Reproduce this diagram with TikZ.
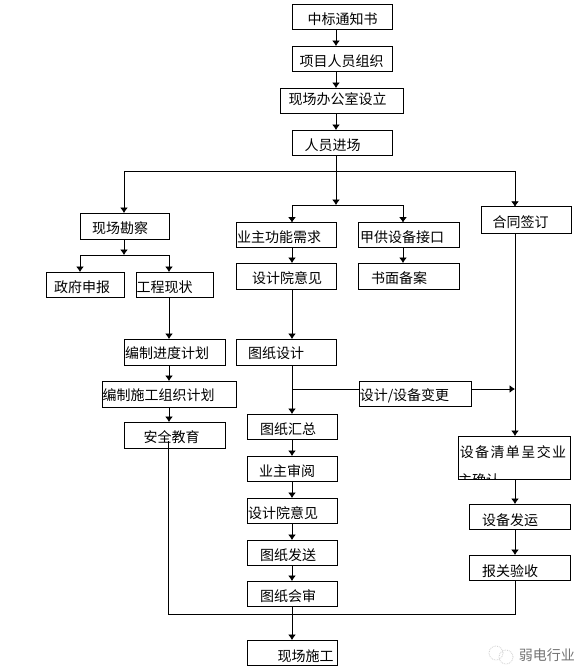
\documentclass[tikz,border=0pt]{standalone}
\usepackage{fontspec}
\setmainfont{Noto Sans CJK SC}
\usetikzlibrary{arrows.meta}
% text in a box: dx, dy from the box centre, baseline set so glyphs sit on the centre
\newcommand{\boxtext}[3]{\smash{\raisebox{\dimexpr -#2pt - 5.3pt\relax}{\makebox[0pt]{\hspace*{#1pt}\hspace*{#1pt}#3}}}}
\tikzset{
  flowbox/.style = {draw, line width = 0.9pt, inner sep = 0pt, outer sep = 0pt, font = \fontsize{14}{14}\selectfont},
  conn/.style = {line width = 0.9pt},
  arr/.style = {conn, -{Latex[length=5.5pt, width=8pt]}}
}
\begin{document}
\begin{tikzpicture}[x = 1pt, y = -1pt]
\useasboundingbox (0,0) rectangle (575,670);
\coordinate (trunk) at (336,171);
\coordinate (surveyline) at (124,171);
\coordinate (contractline) at (515,171);
\coordinate (fork) at (336,205);
\coordinate (forkleft) at (292,205);
\coordinate (forkright) at (403,205);
\coordinate (surveyfork) at (124,255);
\coordinate (govline) at (80,255);
\coordinate (statusline) at (169,255);
\coordinate (changeline) at (292,389);
\coordinate (changeend) at (515,389);
\coordinate (sitejoin) at (292,614);
\coordinate (safetyline) at (168,441);
\coordinate (customsline) at (515,614);
\coordinate (safetycorner) at (168,614);
% top column
\node[flowbox, minimum width = 100pt, minimum height = 25pt] (notice) at (342,16.5) {\boxtext{0.5}{2.5}{中标通知书}};
\node[flowbox, minimum width = 100pt, minimum height = 25pt] (team) at (342,58.5) {\boxtext{-0.5}{2.5}{项目人员组织}};
\node[flowbox, minimum width = 123.5pt, minimum height = 25pt] (office) at (342,100.5) {\boxtext{-4.5}{-1.8}{现场办公室设立}};
\node[flowbox, minimum width = 100pt, minimum height = 25pt] (staff) at (342,142.5) {\boxtext{-9.5}{2.2}{人员进场}};
% left column
\node[flowbox, minimum width = 89.5pt, minimum height = 26pt] (survey) at (124.7,226) {\boxtext{-4.7}{2}{现场勘察}};
\node[flowbox, minimum width = 78pt, minimum height = 25pt] (gov) at (85,284.5) {\boxtext{-3}{2.5}{政府申报}};
\node[flowbox, minimum width = 77pt, minimum height = 25pt] (status) at (174.5,284.5) {\boxtext{-10}{2.5}{工程现状}};
\node[flowbox, minimum width = 101pt, minimum height = 26pt] (schedule) at (174.5,352) {\boxtext{-7.5}{1}{编制进度计划}};
\node[flowbox, minimum width = 134pt, minimum height = 26pt] (plan) at (169,394) {\boxtext{-10.5}{1}{编制施工组织计划}};
\node[flowbox, minimum width = 101pt, minimum height = 26pt] (safety) at (174.5,435) {\boxtext{-3}{2}{安全教育}};
% middle column
\node[flowbox, minimum width = 100.5pt, minimum height = 25pt] (needs) at (286.5,235) {\boxtext{-7.5}{1.7}{业主功能需求}};
\node[flowbox, minimum width = 100.5pt, minimum height = 26pt] (opinion) at (286.5,276) {\boxtext{0.5}{2}{设计院意见}};
\node[flowbox, minimum width = 100.5pt, minimum height = 25pt] (interface) at (409,235) {\boxtext{-7}{1.7}{甲供设备接口}};
\node[flowbox, minimum width = 100.5pt, minimum height = 26pt] (filing) at (409,276) {\boxtext{-10}{2}{书面备案}};
\node[flowbox, minimum width = 100.5pt, minimum height = 26pt] (drawing) at (286.5,352) {\boxtext{-10.5}{1}{图纸设计}};
\node[flowbox, minimum width = 90pt, minimum height = 25pt] (collect) at (292,426.5) {\boxtext{-4}{2.5}{图纸汇总}};
\node[flowbox, minimum width = 90pt, minimum height = 25pt] (review) at (292,468.5) {\boxtext{-5}{2.5}{业主审阅}};
\node[flowbox, minimum width = 90pt, minimum height = 25pt] (opinionb) at (292,510.5) {\boxtext{-9}{2.5}{设计院意见}};
\node[flowbox, minimum width = 90pt, minimum height = 25pt] (send) at (292,552.5) {\boxtext{-4}{2.5}{图纸发送}};
\node[flowbox, minimum width = 90pt, minimum height = 25pt] (meeting) at (292,593.5) {\boxtext{-4}{2.5}{图纸会审}};
\node[flowbox, minimum width = 90pt, minimum height = 25pt] (site) at (292,652.5) {\boxtext{13.5}{3.5}{现场施工}};
% right column
\node[flowbox, minimum width = 112pt, minimum height = 25pt] (change) at (415,393.5) {\boxtext{-10.5}{1.5}{设计/设备变更}};
\node[flowbox, minimum width = 90pt, minimum height = 26.5pt] (contract) at (526,220) {\boxtext{-5.5}{2}{合同签订}};
\node[flowbox, minimum width = 112pt, minimum height = 43pt] (equiplist) at (514,457.5) {\boxtext{-1}{-5.5}{\addfontfeature{LetterSpace=10}设备清单呈交业}};
\begin{scope}
\clip (equiplist.north west) rectangle (equiplist.south east);
\node[flowbox, draw = none, anchor = west] (equiplistb) at (458,480) {主确认};
\end{scope}
\node[flowbox, minimum width = 101pt, minimum height = 25pt] (ship) at (519.5,516.5) {\boxtext{-9.5}{3.5}{设备发运}};
\node[flowbox, minimum width = 101pt, minimum height = 25pt] (customs) at (519.5,567.5) {\boxtext{-9.5}{3.5}{报关验收}};
% connectors
\draw[arr] (notice.south -| trunk) -- (team.north -| trunk);
\draw[arr] (team.south -| trunk) -- (office.north -| trunk);
\draw[arr] (office.south -| trunk) -- (staff.north -| trunk);
\draw[arr] (staff.south -| trunk) -- (fork);
\draw[arr] (trunk) -- (surveyline) -- (survey.north -| surveyline);
\draw[arr] (trunk) -- (contractline) -- (contract.north -| contractline);
\draw[arr] (fork) -- (forkleft) -- (needs.north -| forkleft);
\draw[arr] (fork) -- (forkright) -- (interface.north -| forkright);
\draw[arr] (needs.south -| forkleft) -- (opinion.north -| forkleft);
\draw[arr] (interface.south -| forkright) -- (filing.north -| forkright);
\draw[arr] (opinion.south -| forkleft) -- (drawing.north -| forkleft);
\draw[arr] (drawing.south -| forkleft) -- (collect.north -| forkleft);
\draw[conn] (changeline) -- (changeline -| change.west);
\draw[arr] (changeline -| change.east) -- (changeend);
\draw[arr] (collect.south -| forkleft) -- (review.north -| forkleft);
\draw[arr] (review.south -| forkleft) -- (opinionb.north -| forkleft);
\draw[arr] (opinionb.south -| forkleft) -- (send.north -| forkleft);
\draw[arr] (send.south -| forkleft) -- (meeting.north -| forkleft);
\draw[arr] (meeting.south -| forkleft) -- (site.north -| forkleft);
\draw[arr] (survey.south -| surveyline) -- (surveyfork);
\draw[arr] (surveyfork) -- (govline) -- (gov.north -| govline);
\draw[arr] (surveyfork) -- (statusline) -- (status.north -| statusline);
\draw[arr] (status.south -| statusline) -- (schedule.north -| statusline);
\draw[arr] (schedule.south -| statusline) -- (plan.north -| statusline);
\draw[arr] (plan.south -| statusline) -- (safety.north -| statusline);
\draw[arr] (contract.south -| contractline) -- (equiplist.north -| contractline);
\draw[arr] (equiplist.south -| contractline) -- (ship.north -| contractline);
\draw[arr] (ship.south -| contractline) -- (customs.north -| contractline);
\draw[conn] (customs.south -| customsline) -- (customsline) -- (safetycorner) -- (safetyline);
% watermark
\node[text = black!55, inner sep = 0pt, anchor = east, font = \fontsize{14}{14}\selectfont] (mark) at (575,655) {弱电行业};
\draw[black!20, densely dotted, line width = 0.8pt] (496,653) circle (7pt);
\draw[black!20, densely dotted, line width = 0.8pt] (506,657) circle (7pt);
\end{tikzpicture}
\end{document}
